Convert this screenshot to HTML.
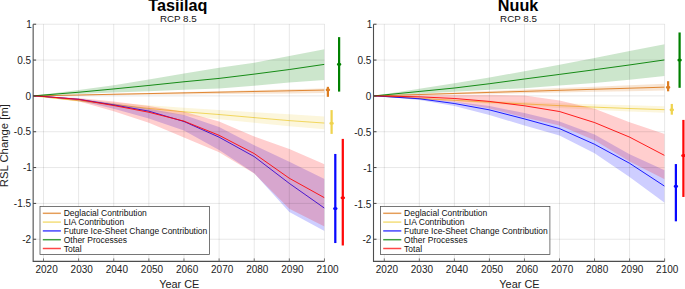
<!DOCTYPE html>
<html><head><meta charset="utf-8"><title>RSL Change</title>
<style>html,body{margin:0;padding:0;background:#fff;}svg{display:block;}text{font-family:"Liberation Sans",sans-serif;}</style></head>
<body>
<svg width="685" height="289" viewBox="0 0 685 289" font-family="Liberation Sans, sans-serif">
<rect width="685" height="289" fill="#fff"/>
<clipPath id="c0"><rect x="33.15" y="24.2" width="291.35" height="237.2"/></clipPath>
<g clip-path="url(#c0)">
<polygon points="32.96,95.90 43.50,95.63 78.62,94.74 113.74,93.84 148.86,92.94 183.98,92.05 219.10,91.15 254.22,90.26 289.34,89.36 324.46,88.46 324.46,93.10 289.34,93.44 254.22,93.78 219.10,94.11 183.98,94.45 148.86,94.79 113.74,95.13 78.62,95.46 43.50,95.80 32.96,95.90" fill="#dc7d22" fill-opacity="0.2"/>
<polyline points="32.96,95.90 43.50,95.69 78.62,94.99 113.74,94.28 148.86,93.58 183.98,92.88 219.10,92.18 254.22,91.48 289.34,90.77 324.46,90.07" fill="none" stroke="#dc7d22" stroke-width="0.9" stroke-linejoin="round"/>
<polygon points="32.96,95.90 43.50,96.69 78.62,99.56 113.74,102.49 148.86,105.36 183.98,107.87 219.10,110.02 254.22,112.17 289.34,114.32 324.46,116.47 324.46,129.15 289.34,126.36 254.22,122.78 219.10,119.26 183.98,115.25 148.86,111.17 113.74,106.51 78.62,101.85 43.50,97.26 32.96,95.90" fill="#efd34f" fill-opacity="0.2"/>
<polyline points="32.96,95.90 43.50,96.98 78.62,100.70 113.74,104.50 148.86,108.44 183.98,111.81 219.10,114.53 254.22,117.62 289.34,120.63 324.46,123.06" fill="none" stroke="#efd34f" stroke-width="0.9" stroke-linejoin="round"/>
<polygon points="32.96,95.90 43.50,96.26 78.62,98.41 113.74,103.43 148.86,108.66 183.98,114.96 219.10,127.08 254.22,145.14 289.34,161.84 324.46,179.04 324.46,230.93 289.34,212.01 254.22,173.30 219.10,150.01 183.98,130.59 148.86,118.48 113.74,108.66 78.62,100.56 43.50,96.76 32.96,95.90" fill="#0808ff" fill-opacity="0.2"/>
<polyline points="32.96,95.90 43.50,96.47 78.62,99.27 113.74,104.93 148.86,111.17 183.98,121.49 219.10,137.18 254.22,156.60 289.34,183.41 324.46,208.14" fill="none" stroke="#0808ff" stroke-width="0.9" stroke-linejoin="round"/>
<polygon points="32.96,95.90 43.50,94.47 78.62,89.88 113.74,85.15 148.86,79.52 183.98,73.54 219.10,67.81 254.22,62.72 289.34,56.05 324.46,49.24 324.46,79.99 289.34,82.50 254.22,85.79 219.10,88.45 183.98,89.81 148.86,91.17 113.74,92.60 78.62,94.11 43.50,95.54 32.96,95.90" fill="#008000" fill-opacity="0.2"/>
<polyline points="32.96,95.90 43.50,95.04 78.62,92.24 113.74,88.95 148.86,85.44 183.98,81.78 219.10,78.41 254.22,74.11 289.34,69.53 324.46,64.37" fill="none" stroke="#008000" stroke-width="0.9" stroke-linejoin="round"/>
<polygon points="32.96,95.90 43.50,96.19 78.62,98.05 113.74,101.42 148.86,106.08 183.98,111.81 219.10,121.49 254.22,136.39 289.34,149.08 324.46,164.20 324.46,226.55 289.34,208.64 254.22,173.52 219.10,152.23 183.98,137.47 148.86,122.85 113.74,111.17 78.62,101.28 43.50,96.90 32.96,95.90" fill="#ff0808" fill-opacity="0.2"/>
<polyline points="32.96,95.90 43.50,96.47 78.62,99.41 113.74,105.50 148.86,112.24 183.98,121.13 219.10,135.32 254.22,153.59 289.34,178.25 324.46,197.74" fill="none" stroke="#ff0808" stroke-width="0.9" stroke-linejoin="round"/>
</g>
<line x1="43.50" x2="43.50" y1="24.2" y2="261.4" stroke="#000" stroke-opacity="0.12" stroke-width="0.8"/>
<line x1="78.62" x2="78.62" y1="24.2" y2="261.4" stroke="#000" stroke-opacity="0.12" stroke-width="0.8"/>
<line x1="113.74" x2="113.74" y1="24.2" y2="261.4" stroke="#000" stroke-opacity="0.12" stroke-width="0.8"/>
<line x1="148.86" x2="148.86" y1="24.2" y2="261.4" stroke="#000" stroke-opacity="0.12" stroke-width="0.8"/>
<line x1="183.98" x2="183.98" y1="24.2" y2="261.4" stroke="#000" stroke-opacity="0.12" stroke-width="0.8"/>
<line x1="219.10" x2="219.10" y1="24.2" y2="261.4" stroke="#000" stroke-opacity="0.12" stroke-width="0.8"/>
<line x1="254.22" x2="254.22" y1="24.2" y2="261.4" stroke="#000" stroke-opacity="0.12" stroke-width="0.8"/>
<line x1="289.34" x2="289.34" y1="24.2" y2="261.4" stroke="#000" stroke-opacity="0.12" stroke-width="0.8"/>
<line x1="324.46" x2="324.46" y1="24.2" y2="261.4" stroke="#000" stroke-opacity="0.12" stroke-width="0.8"/>
<line x1="33.15" x2="324.5" y1="24.23" y2="24.23" stroke="#000" stroke-opacity="0.12" stroke-width="0.8"/>
<line x1="33.15" x2="324.5" y1="60.07" y2="60.07" stroke="#000" stroke-opacity="0.12" stroke-width="0.8"/>
<line x1="33.15" x2="324.5" y1="95.90" y2="95.90" stroke="#000" stroke-opacity="0.12" stroke-width="0.8"/>
<line x1="33.15" x2="324.5" y1="131.74" y2="131.74" stroke="#000" stroke-opacity="0.12" stroke-width="0.8"/>
<line x1="33.15" x2="324.5" y1="167.57" y2="167.57" stroke="#000" stroke-opacity="0.12" stroke-width="0.8"/>
<line x1="33.15" x2="324.5" y1="203.41" y2="203.41" stroke="#000" stroke-opacity="0.12" stroke-width="0.8"/>
<line x1="33.15" x2="324.5" y1="239.24" y2="239.24" stroke="#000" stroke-opacity="0.12" stroke-width="0.8"/>
<path d="M33.15,24.2 V261.4 H324.5" fill="none" stroke="#4d4d4d" stroke-width="1.1"/>
<line x1="43.50" x2="43.50" y1="261.4" y2="258.4" stroke="#666" stroke-width="0.9"/>
<text x="46.60" y="272.5" font-size="10" text-anchor="middle" fill="#222">2020</text>
<line x1="78.62" x2="78.62" y1="261.4" y2="258.4" stroke="#666" stroke-width="0.9"/>
<text x="81.72" y="272.5" font-size="10" text-anchor="middle" fill="#222">2030</text>
<line x1="113.74" x2="113.74" y1="261.4" y2="258.4" stroke="#666" stroke-width="0.9"/>
<text x="116.84" y="272.5" font-size="10" text-anchor="middle" fill="#222">2040</text>
<line x1="148.86" x2="148.86" y1="261.4" y2="258.4" stroke="#666" stroke-width="0.9"/>
<text x="151.96" y="272.5" font-size="10" text-anchor="middle" fill="#222">2050</text>
<line x1="183.98" x2="183.98" y1="261.4" y2="258.4" stroke="#666" stroke-width="0.9"/>
<text x="187.08" y="272.5" font-size="10" text-anchor="middle" fill="#222">2060</text>
<line x1="219.10" x2="219.10" y1="261.4" y2="258.4" stroke="#666" stroke-width="0.9"/>
<text x="222.20" y="272.5" font-size="10" text-anchor="middle" fill="#222">2070</text>
<line x1="254.22" x2="254.22" y1="261.4" y2="258.4" stroke="#666" stroke-width="0.9"/>
<text x="257.32" y="272.5" font-size="10" text-anchor="middle" fill="#222">2080</text>
<line x1="289.34" x2="289.34" y1="261.4" y2="258.4" stroke="#666" stroke-width="0.9"/>
<text x="292.44" y="272.5" font-size="10" text-anchor="middle" fill="#222">2090</text>
<line x1="324.46" x2="324.46" y1="261.4" y2="258.4" stroke="#666" stroke-width="0.9"/>
<text x="327.56" y="272.5" font-size="10" text-anchor="middle" fill="#222">2100</text>
<line x1="33.15" x2="36.15" y1="24.23" y2="24.23" stroke="#444" stroke-width="1"/>
<text x="31.85" y="27.93" font-size="10" text-anchor="end" fill="#222">1</text>
<line x1="33.15" x2="36.15" y1="60.07" y2="60.07" stroke="#444" stroke-width="1"/>
<text x="31.05" y="63.77" font-size="10" text-anchor="end" fill="#222">0.5</text>
<line x1="33.15" x2="36.15" y1="95.90" y2="95.90" stroke="#444" stroke-width="1"/>
<text x="31.05" y="99.60" font-size="10" text-anchor="end" fill="#222">0</text>
<line x1="33.15" x2="36.15" y1="131.74" y2="131.74" stroke="#444" stroke-width="1"/>
<text x="31.05" y="135.44" font-size="10" text-anchor="end" fill="#222">-0.5</text>
<line x1="33.15" x2="36.15" y1="167.57" y2="167.57" stroke="#444" stroke-width="1"/>
<text x="31.85" y="171.27" font-size="10" text-anchor="end" fill="#222">-1</text>
<line x1="33.15" x2="36.15" y1="203.41" y2="203.41" stroke="#444" stroke-width="1"/>
<text x="31.05" y="207.10" font-size="10" text-anchor="end" fill="#222">-1.5</text>
<line x1="33.15" x2="36.15" y1="239.24" y2="239.24" stroke="#444" stroke-width="1"/>
<text x="31.05" y="242.94" font-size="10" text-anchor="end" fill="#222">-2</text>
<line x1="339.1" x2="339.1" y1="91.60" y2="37.13" stroke="#008000" stroke-width="2.25"/>
<ellipse cx="339.1" cy="64.37" rx="2.3" ry="1.5" fill="#008000"/>
<line x1="327.9" x2="327.9" y1="96.83" y2="86.83" stroke="#dc7d22" stroke-width="2.25"/>
<ellipse cx="327.9" cy="89.74" rx="2.3" ry="1.5" fill="#dc7d22"/>
<line x1="331.6" x2="331.6" y1="133.89" y2="110.09" stroke="#efd34f" stroke-width="2.25"/>
<ellipse cx="331.6" cy="123.13" rx="2.3" ry="1.5" fill="#efd34f"/>
<line x1="335.3" x2="335.3" y1="243.04" y2="153.95" stroke="#0808ff" stroke-width="2.25"/>
<ellipse cx="335.3" cy="208.42" rx="2.3" ry="1.5" fill="#0808ff"/>
<line x1="342.8" x2="342.8" y1="245.48" y2="138.90" stroke="#ff0808" stroke-width="2.25"/>
<ellipse cx="342.8" cy="197.67" rx="2.3" ry="1.5" fill="#ff0808"/>
<text x="177.82" y="11.3" font-size="16.2" font-weight="bold" text-anchor="middle" fill="#000">Tasiilaq</text>
<text x="178.32" y="21.5" font-size="9.8" text-anchor="middle" fill="#111">RCP 8.5</text>
<text x="179.22" y="287.6" font-size="10.9" text-anchor="middle" fill="#222">Year CE</text>
<rect x="40.0" y="206.5" width="169.5" height="48.0" fill="#fff" stroke="#4a4a4a" stroke-width="0.75"/>
<line x1="42.8" x2="60.9" y1="213.3" y2="213.3" stroke="#dc7d22" stroke-width="1.5" stroke-opacity="0.75"/>
<text x="63.7" y="216.3" font-size="8.5" fill="#111">Deglacial Contribution</text>
<line x1="42.8" x2="60.9" y1="222.10000000000002" y2="222.10000000000002" stroke="#efd34f" stroke-width="1.5" stroke-opacity="0.75"/>
<text x="63.7" y="225.10000000000002" font-size="8.5" fill="#111">LIA Contribution</text>
<line x1="42.8" x2="60.9" y1="230.9" y2="230.9" stroke="#0808ff" stroke-width="1.5" stroke-opacity="0.75"/>
<text x="63.7" y="233.9" font-size="8.5" fill="#111">Future Ice-Sheet Change Contribution</text>
<line x1="42.8" x2="60.9" y1="239.70000000000002" y2="239.70000000000002" stroke="#008000" stroke-width="1.5" stroke-opacity="0.75"/>
<text x="63.7" y="242.70000000000002" font-size="8.5" fill="#111">Other Processes</text>
<line x1="42.8" x2="60.9" y1="248.5" y2="248.5" stroke="#ff0808" stroke-width="1.5" stroke-opacity="0.75"/>
<text x="63.7" y="251.5" font-size="8.5" fill="#111">Total</text>
<clipPath id="c340"><rect x="373.5" y="24.2" width="291.1" height="237.2"/></clipPath>
<g clip-path="url(#c340)">
<polygon points="373.79,95.90 384.30,95.46 419.34,93.99 454.38,92.52 489.42,91.05 524.46,89.58 559.50,88.11 594.54,86.64 629.58,85.17 664.62,83.71 664.62,90.55 629.58,91.19 594.54,91.84 559.50,92.48 524.46,93.13 489.42,93.77 454.38,94.42 419.34,95.06 384.30,95.71 373.79,95.90" fill="#dc7d22" fill-opacity="0.2"/>
<polyline points="373.79,95.90 384.30,95.58 419.34,94.53 454.38,93.48 489.42,92.42 524.46,91.37 559.50,90.32 594.54,89.26 629.58,88.21 664.62,87.16" fill="none" stroke="#dc7d22" stroke-width="0.9" stroke-linejoin="round"/>
<polygon points="373.79,95.90 384.30,96.33 419.34,97.78 454.38,99.23 489.42,100.63 524.46,101.92 559.50,103.21 594.54,104.34 629.58,105.36 664.62,106.22 664.62,112.83 629.58,111.42 594.54,109.74 559.50,107.89 524.46,105.77 489.42,103.66 454.38,101.37 419.34,98.99 384.30,96.61 373.79,95.90" fill="#efd34f" fill-opacity="0.2"/>
<polyline points="373.79,95.90 384.30,96.47 419.34,98.41 454.38,100.34 489.42,102.21 524.46,103.93 559.50,105.65 594.54,107.15 629.58,108.51 664.62,109.66" fill="none" stroke="#efd34f" stroke-width="0.9" stroke-linejoin="round"/>
<polygon points="373.79,95.90 384.30,96.26 419.34,98.05 454.38,101.63 489.42,105.93 524.46,113.10 559.50,121.49 594.54,134.60 629.58,154.31 664.62,170.15 664.62,202.69 629.58,176.89 594.54,153.24 559.50,135.61 524.46,125.43 489.42,115.11 454.38,105.93 419.34,100.06 384.30,96.76 373.79,95.90" fill="#0808ff" fill-opacity="0.2"/>
<polyline points="373.79,95.90 384.30,96.47 419.34,98.77 454.38,103.50 489.42,109.88 524.46,118.91 559.50,128.58 594.54,144.28 629.58,163.27 664.62,186.20" fill="none" stroke="#0808ff" stroke-width="0.9" stroke-linejoin="round"/>
<polygon points="373.79,95.90 384.30,94.32 419.34,88.73 454.38,83.36 489.42,77.62 524.46,71.17 559.50,64.72 594.54,57.91 629.58,51.11 664.62,44.15 664.62,75.90 629.58,79.77 594.54,83.00 559.50,85.51 524.46,88.16 489.42,89.81 454.38,91.74 419.34,93.75 384.30,95.47 373.79,95.90" fill="#008000" fill-opacity="0.2"/>
<polyline points="373.79,95.90 384.30,94.90 419.34,91.46 454.38,88.02 489.42,83.72 524.46,78.99 559.50,74.40 594.54,69.74 629.58,64.94 664.62,59.92" fill="none" stroke="#008000" stroke-width="0.9" stroke-linejoin="round"/>
<polygon points="373.79,95.90 384.30,95.76 419.34,95.33 454.38,94.97 489.42,94.75 524.46,95.54 559.50,100.42 594.54,108.80 629.58,122.20 664.62,133.96 664.62,179.25 629.58,161.48 594.54,140.34 559.50,125.43 524.46,117.40 489.42,108.51 454.38,101.92 419.34,98.41 384.30,96.47 373.79,95.90" fill="#ff0808" fill-opacity="0.2"/>
<polyline points="373.79,95.90 384.30,96.12 419.34,96.83 454.38,98.48 489.42,101.42 524.46,105.79 559.50,111.52 594.54,122.56 629.58,137.11 664.62,155.46" fill="none" stroke="#ff0808" stroke-width="0.9" stroke-linejoin="round"/>
</g>
<line x1="384.30" x2="384.30" y1="24.2" y2="261.4" stroke="#000" stroke-opacity="0.12" stroke-width="0.8"/>
<line x1="419.34" x2="419.34" y1="24.2" y2="261.4" stroke="#000" stroke-opacity="0.12" stroke-width="0.8"/>
<line x1="454.38" x2="454.38" y1="24.2" y2="261.4" stroke="#000" stroke-opacity="0.12" stroke-width="0.8"/>
<line x1="489.42" x2="489.42" y1="24.2" y2="261.4" stroke="#000" stroke-opacity="0.12" stroke-width="0.8"/>
<line x1="524.46" x2="524.46" y1="24.2" y2="261.4" stroke="#000" stroke-opacity="0.12" stroke-width="0.8"/>
<line x1="559.50" x2="559.50" y1="24.2" y2="261.4" stroke="#000" stroke-opacity="0.12" stroke-width="0.8"/>
<line x1="594.54" x2="594.54" y1="24.2" y2="261.4" stroke="#000" stroke-opacity="0.12" stroke-width="0.8"/>
<line x1="629.58" x2="629.58" y1="24.2" y2="261.4" stroke="#000" stroke-opacity="0.12" stroke-width="0.8"/>
<line x1="664.62" x2="664.62" y1="24.2" y2="261.4" stroke="#000" stroke-opacity="0.12" stroke-width="0.8"/>
<line x1="373.5" x2="664.6" y1="24.23" y2="24.23" stroke="#000" stroke-opacity="0.12" stroke-width="0.8"/>
<line x1="373.5" x2="664.6" y1="60.07" y2="60.07" stroke="#000" stroke-opacity="0.12" stroke-width="0.8"/>
<line x1="373.5" x2="664.6" y1="95.90" y2="95.90" stroke="#000" stroke-opacity="0.12" stroke-width="0.8"/>
<line x1="373.5" x2="664.6" y1="131.74" y2="131.74" stroke="#000" stroke-opacity="0.12" stroke-width="0.8"/>
<line x1="373.5" x2="664.6" y1="167.57" y2="167.57" stroke="#000" stroke-opacity="0.12" stroke-width="0.8"/>
<line x1="373.5" x2="664.6" y1="203.41" y2="203.41" stroke="#000" stroke-opacity="0.12" stroke-width="0.8"/>
<line x1="373.5" x2="664.6" y1="239.24" y2="239.24" stroke="#000" stroke-opacity="0.12" stroke-width="0.8"/>
<path d="M373.5,24.2 V261.4 H664.6" fill="none" stroke="#4d4d4d" stroke-width="1.1"/>
<line x1="384.30" x2="384.30" y1="261.4" y2="258.4" stroke="#666" stroke-width="0.9"/>
<text x="386.90" y="272.5" font-size="10" text-anchor="middle" fill="#222">2020</text>
<line x1="419.34" x2="419.34" y1="261.4" y2="258.4" stroke="#666" stroke-width="0.9"/>
<text x="421.94" y="272.5" font-size="10" text-anchor="middle" fill="#222">2030</text>
<line x1="454.38" x2="454.38" y1="261.4" y2="258.4" stroke="#666" stroke-width="0.9"/>
<text x="456.98" y="272.5" font-size="10" text-anchor="middle" fill="#222">2040</text>
<line x1="489.42" x2="489.42" y1="261.4" y2="258.4" stroke="#666" stroke-width="0.9"/>
<text x="492.02" y="272.5" font-size="10" text-anchor="middle" fill="#222">2050</text>
<line x1="524.46" x2="524.46" y1="261.4" y2="258.4" stroke="#666" stroke-width="0.9"/>
<text x="527.06" y="272.5" font-size="10" text-anchor="middle" fill="#222">2060</text>
<line x1="559.50" x2="559.50" y1="261.4" y2="258.4" stroke="#666" stroke-width="0.9"/>
<text x="562.10" y="272.5" font-size="10" text-anchor="middle" fill="#222">2070</text>
<line x1="594.54" x2="594.54" y1="261.4" y2="258.4" stroke="#666" stroke-width="0.9"/>
<text x="597.14" y="272.5" font-size="10" text-anchor="middle" fill="#222">2080</text>
<line x1="629.58" x2="629.58" y1="261.4" y2="258.4" stroke="#666" stroke-width="0.9"/>
<text x="632.18" y="272.5" font-size="10" text-anchor="middle" fill="#222">2090</text>
<line x1="664.62" x2="664.62" y1="261.4" y2="258.4" stroke="#666" stroke-width="0.9"/>
<text x="667.22" y="272.5" font-size="10" text-anchor="middle" fill="#222">2100</text>
<line x1="373.5" x2="376.5" y1="24.23" y2="24.23" stroke="#444" stroke-width="1"/>
<text x="372.20" y="28.43" font-size="10" text-anchor="end" fill="#222">1</text>
<line x1="373.5" x2="376.5" y1="60.07" y2="60.07" stroke="#444" stroke-width="1"/>
<text x="371.40" y="64.27" font-size="10" text-anchor="end" fill="#222">0.5</text>
<line x1="373.5" x2="376.5" y1="95.90" y2="95.90" stroke="#444" stroke-width="1"/>
<text x="371.40" y="100.10" font-size="10" text-anchor="end" fill="#222">0</text>
<line x1="373.5" x2="376.5" y1="131.74" y2="131.74" stroke="#444" stroke-width="1"/>
<text x="371.40" y="135.94" font-size="10" text-anchor="end" fill="#222">-0.5</text>
<line x1="373.5" x2="376.5" y1="167.57" y2="167.57" stroke="#444" stroke-width="1"/>
<text x="372.20" y="171.77" font-size="10" text-anchor="end" fill="#222">-1</text>
<line x1="373.5" x2="376.5" y1="203.41" y2="203.41" stroke="#444" stroke-width="1"/>
<text x="371.40" y="207.60" font-size="10" text-anchor="end" fill="#222">-1.5</text>
<line x1="373.5" x2="376.5" y1="239.24" y2="239.24" stroke="#444" stroke-width="1"/>
<text x="371.40" y="243.44" font-size="10" text-anchor="end" fill="#222">-2</text>
<line x1="679.6" x2="679.6" y1="87.80" y2="32.47" stroke="#008000" stroke-width="2.25"/>
<ellipse cx="679.6" cy="60.07" rx="2.3" ry="1.5" fill="#008000"/>
<line x1="668.1" x2="668.1" y1="91.31" y2="81.21" stroke="#dc7d22" stroke-width="2.25"/>
<ellipse cx="668.1" cy="87.16" rx="2.3" ry="1.5" fill="#dc7d22"/>
<line x1="671.8" x2="671.8" y1="114.68" y2="103.93" stroke="#efd34f" stroke-width="2.25"/>
<ellipse cx="671.8" cy="109.73" rx="2.3" ry="1.5" fill="#efd34f"/>
<line x1="675.9000000000001" x2="675.9000000000001" y1="221.32" y2="164.06" stroke="#0808ff" stroke-width="2.25"/>
<ellipse cx="675.9000000000001" cy="186.20" rx="2.3" ry="1.5" fill="#0808ff"/>
<line x1="683.4000000000001" x2="683.4000000000001" y1="196.95" y2="119.91" stroke="#ff0808" stroke-width="2.25"/>
<ellipse cx="683.4000000000001" cy="155.46" rx="2.3" ry="1.5" fill="#ff0808"/>
<text x="518.05" y="11.3" font-size="16.2" font-weight="bold" text-anchor="middle" fill="#000">Nuuk</text>
<text x="518.55" y="21.5" font-size="9.8" text-anchor="middle" fill="#111">RCP 8.5</text>
<text x="519.45" y="287.6" font-size="10.9" text-anchor="middle" fill="#222">Year CE</text>
<rect x="380.4" y="206.5" width="169.5" height="48.0" fill="#fff" stroke="#4a4a4a" stroke-width="0.75"/>
<line x1="383.2" x2="401.29999999999995" y1="213.3" y2="213.3" stroke="#dc7d22" stroke-width="1.5" stroke-opacity="0.75"/>
<text x="404.09999999999997" y="216.3" font-size="8.5" fill="#111">Deglacial Contribution</text>
<line x1="383.2" x2="401.29999999999995" y1="222.10000000000002" y2="222.10000000000002" stroke="#efd34f" stroke-width="1.5" stroke-opacity="0.75"/>
<text x="404.09999999999997" y="225.10000000000002" font-size="8.5" fill="#111">LIA Contribution</text>
<line x1="383.2" x2="401.29999999999995" y1="230.9" y2="230.9" stroke="#0808ff" stroke-width="1.5" stroke-opacity="0.75"/>
<text x="404.09999999999997" y="233.9" font-size="8.5" fill="#111">Future Ice-Sheet Change Contribution</text>
<line x1="383.2" x2="401.29999999999995" y1="239.70000000000002" y2="239.70000000000002" stroke="#008000" stroke-width="1.5" stroke-opacity="0.75"/>
<text x="404.09999999999997" y="242.70000000000002" font-size="8.5" fill="#111">Other Processes</text>
<line x1="383.2" x2="401.29999999999995" y1="248.5" y2="248.5" stroke="#ff0808" stroke-width="1.5" stroke-opacity="0.75"/>
<text x="404.09999999999997" y="251.5" font-size="8.5" fill="#111">Total</text>
<text transform="translate(7.9,145.7) rotate(-90)" font-size="11.3" text-anchor="middle" fill="#222">RSL Change [m]</text>
</svg>
</body></html>
